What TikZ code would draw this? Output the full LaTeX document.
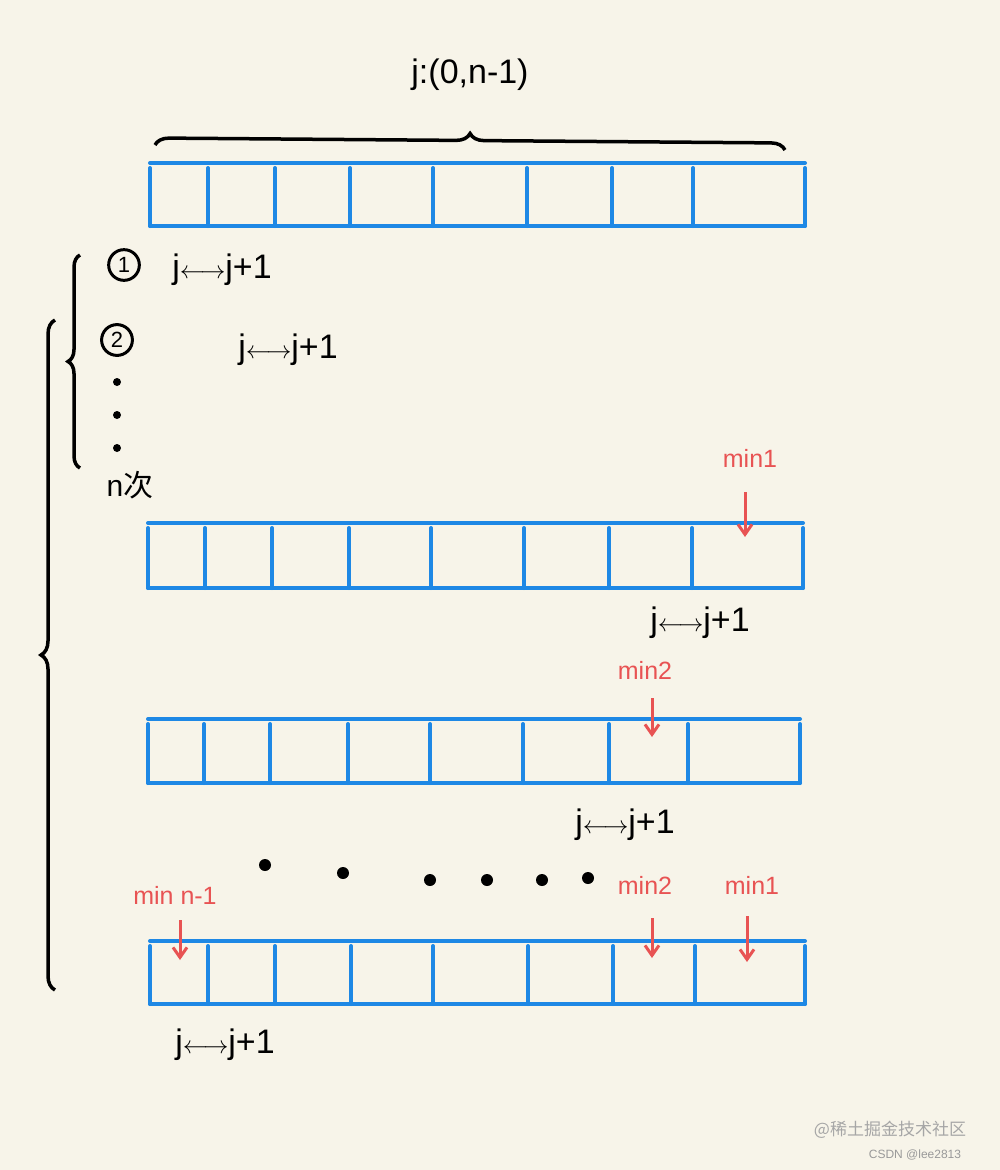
\documentclass[tikz,border=0pt]{standalone}
\usepackage{fontspec}
\setmainfont{Liberation Sans}
\newfontfamily\cjk{Noto Sans CJK SC}
\usetikzlibrary{decorations.pathreplacing,arrows.meta}
\definecolor{bg}{HTML}{F7F4E9}
\definecolor{arr}{HTML}{1E88E5}
\definecolor{rd}{HTML}{E85353}
\tikzset{cell/.style={draw=arr,line width=4pt,line cap=round},
 hand/.style={font=\fontsize{34}{34}\selectfont},
 redlab/.style={text=rd,font=\fontsize{25}{25}\selectfont},
 redarr/.style={rd,line width=3pt,-{Straight Barb[length=10pt,width=14pt]}},
 br/.style={black,line width=3.5pt,decorate,decoration={brace,amplitude=14pt}}}
\newcommand{\arrrow}[4]{%
 \draw[cell] (#1,#3) -- (#2,#3);
 \draw[cell] (#1,#4) -- (#2,#4);
 \foreach \d in {#1,#2} \draw[cell] (\d,#3+5) -- (\d,#4);}
\begin{document}
\begin{tikzpicture}[x=1pt,y=-1pt]
\fill[bg] (0,0) rectangle (1000,1170);
\useasboundingbox (0,0) rectangle (1000,1170);
% arrays
\arrrow{150}{805}{163}{226}
\foreach \d in {208,275,350,433,527,612,693} \draw[cell] (\d,168) -- (\d,226);
\arrrow{148}{803}{523}{588}
\foreach \d in {205,272,349,431,524,609,692} \draw[cell] (\d,528) -- (\d,588);
\arrrow{148}{800}{719}{783}
\foreach \d in {204,270,348,430,523,609,688} \draw[cell] (\d,724) -- (\d,783);
\arrrow{150}{805}{941}{1004}
\foreach \d in {208,275,351,433,528,613,695} \draw[cell] (\d,946) -- (\d,1004);
% top brace
\draw[br] (155,145) -- (785,150);
\node[hand] (jr) at (470,75) {j:(0,n-1)};
% left braces
\draw[br,decoration={brace,amplitude=12pt}] (80,468) -- (80,255);
\draw[br,decoration={brace,amplitude=14pt}] (55,990) -- (55,320);
\node[draw,circle,inner sep=4pt,line width=3pt,font=\fontsize{22}{22}\selectfont] (c1) at (124,265) {1};
\node[hand] (s1) at (222,270) {j$\longleftrightarrow$j+1};
\node[draw,circle,inner sep=4pt,line width=3pt,font=\fontsize{22}{22}\selectfont] (c2) at (117,340) {2};
\node[hand] (s2) at (288,350) {j$\longleftrightarrow$j+1};
\foreach \y [count=\k] in {382,415,448} \fill (117,\y) circle (4) coordinate (v\k);
\node[font=\fontsize{30}{30}\selectfont] (nci) at (130,485) {n{\cjk 次}};
% row 2
\node[redlab] (m1a) at (750,458) {min1};
\coordinate (m1as) at (745,492); \coordinate (m1ae) at (745,537);
\draw[redarr] (m1as) -- (m1ae);
\node[hand] (s3) at (700,623) {j$\longleftrightarrow$j+1};
% row 3
\node[redlab] (m2a) at (645,670) {min2};
\coordinate (m2as) at (652,698); \coordinate (m2ae) at (652,737);
\draw[redarr] (m2as) -- (m2ae);
\node[hand] (s4) at (625,825) {j$\longleftrightarrow$j+1};
% dots
\foreach \x/\y [count=\k] in {265/865,343/873,430/880,487/880,542/880,588/878} \fill (\x,\y) circle (6) coordinate (d\k);
% row 4
\node[redlab] (mn) at (175,895) {min n-1};
\coordinate (mns) at (180,920); \coordinate (mne) at (180,960);
\draw[redarr] (mns) -- (mne);
\node[redlab] (m2b) at (645,885) {min2};
\coordinate (m2bs) at (652,918); \coordinate (m2be) at (652,958);
\draw[redarr] (m2bs) -- (m2be);
\node[redlab] (m1b) at (752,885) {min1};
\coordinate (m1bs) at (747,916); \coordinate (m1be) at (747,962);
\draw[redarr] (m1bs) -- (m1be);
\node[hand] (s5) at (225,1045) {j$\longleftrightarrow$j+1};
% watermark
\node[text=gray!70,font=\cjk\fontsize{17}{17}\selectfont] (wm1) at (890,1130) {@稀土掘金技术社区};
\node[text=gray!80,font=\fontsize{12}{12}\selectfont] (wm2) at (915,1155) {CSDN @lee2813};
\end{tikzpicture}
\end{document}
